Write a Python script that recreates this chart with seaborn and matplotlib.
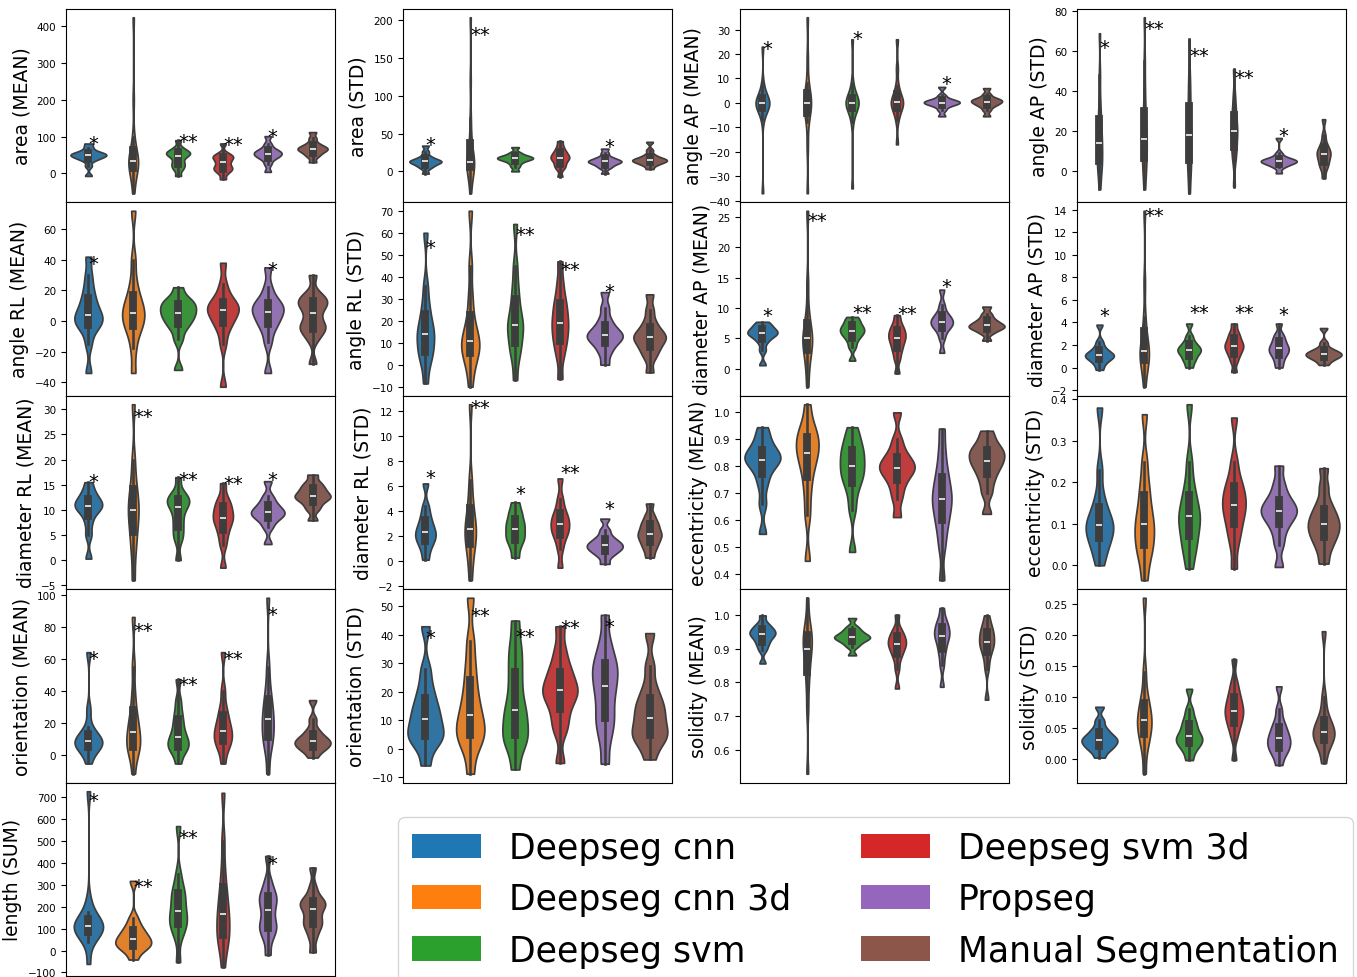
import numpy as np
import pandas as pd
import matplotlib.pyplot as plt
import seaborn as sns
from matplotlib.patches import Patch

methods = ["Deepseg cnn", "Deepseg cnn 3d", "Deepseg svm",
           "Deepseg svm 3d", "Propseg", "Manual Segmentation"]
colors = sns.color_palette("tab10", 6)

# values, one list per method (same order as methods)
area_mean = [
    [-7, 20, 35, 40, 44, 47, 49, 51, 53, 56, 60, 70, 81],
    [-54, -20, 0, 10, 18, 25, 30, 33, 38, 45, 55, 70, 100, 200, 424],
    [-7, 10, 18, 25, 32, 42, 48, 52, 55, 58, 62, 70, 90],
    [-16, 0, 8, 12, 16, 22, 30, 35, 42, 45, 48, 55, 81],
    [4, 25, 38, 44, 48, 52, 55, 58, 62, 68, 80, 101],
    [30, 45, 52, 58, 62, 65, 68, 71, 75, 82, 95, 112],
]
area_std = [
    [-3, 4, 7, 9, 11, 12, 13, 14, 15, 17, 20, 26, 34],
    [-29, -10, 0, 4, 7, 9, 10, 12, 16, 22, 30, 45, 70, 120, 204],
    [0, 6, 10, 13, 15, 16, 17, 18, 19, 20, 22, 25, 32],
    [-7, 3, 7, 10, 14, 16, 18, 20, 22, 25, 28, 33, 40],
    [-3, 4, 7, 9, 11, 12, 13, 14, 15, 17, 19, 24, 30],
    [3, 8, 10, 12, 13, 14, 15, 16, 17, 19, 22, 28, 39],
]
angle_ap_mean = [
    [-37, -7, -4, -3, -2, -1.5, -1, -0.5, 0, 0.5, 1, 1.5, 2, 3, 5, 8, 23],
    [-37, -18, -8, -4, -2, -1, 0, 1, 2, 4, 8, 18, 35],
    [-35, -8, -4, -2.5, -1.5, -1, -0.5, 0, 0.5, 1, 1.5, 2.5, 4, 8, 26],
    [-17, -7, -4, -2.5, -1.5, -0.5, 0, 0.5, 1.5, 2.5, 4, 7, 14, 26],
    [-5.5, -3, -1.5, -0.8, -0.3, 0, 0.2, 0.6, 1, 1.5, 3, 6.5],
    [-5.5, -3, -1.5, -0.8, -0.2, 0.3, 0.7, 1, 1.5, 2, 3.5, 6],
]
angle_ap_std = [
    [-9, -2, 2, 4, 6, 9, 12, 14, 17, 20, 24, 28, 35, 48, 69],
    [-9, -2, 2, 5, 8, 11, 14, 16, 19, 23, 27, 33, 42, 55, 77],
    [-11, -3, 2, 5, 8, 13, 17, 19, 23, 28, 34, 40, 48, 66],
    [-7.7, 5, 9, 12, 15, 18, 20, 22, 25, 28, 32, 38, 51],
    [-1, 2, 3, 3.8, 4.3, 4.7, 5, 5.3, 5.7, 6.2, 7, 9, 16.6],
    [-3.5, 1, 3, 4.5, 6, 7.5, 8.5, 9.5, 10.5, 12, 14, 18, 26],
]
angle_rl_mean = [
    [-34, -15, -6, -3, -1, 1, 3, 5, 8, 12, 16, 22, 30, 42],
    [-34, -18, -8, -4, -1, 2, 4, 7, 10, 13, 18, 26, 40, 72],
    [-32, -12, -5, -2, 1, 3, 5, 7, 9, 11, 13, 15, 22],
    [-43, -15, -6, -2, 1, 4, 6, 8, 9, 11, 13, 17, 24, 38],
    [-34, -14, -6, -2, 1, 4, 6, 8, 10, 12, 15, 22, 35],
    [-28, -12, -7, -5, -3, 0, 5, 9, 11, 13, 15, 18, 30],
]
angle_rl_std = [
    [-8.5, 0, 4, 6, 9, 12, 14, 16, 19, 23, 28, 36, 60],
    [-10, -2, 2, 5, 7, 9, 10, 12, 15, 18, 24, 32, 45, 70],
    [-7, 3, 7, 10, 14, 17, 18, 21, 25, 30, 36, 45, 64],
    [-6.5, 3, 8, 11, 14, 17, 19, 22, 25, 28, 32, 38, 47],
    [0, 5, 8, 10, 11.5, 12.5, 13.5, 14.5, 16, 18, 21, 26, 33],
    [-3.5, 3, 6, 8, 10, 11.5, 12.5, 13.5, 15, 17, 20, 25, 32],
]
diameter_ap_mean = [
    [0.55, 3, 4.3, 5, 5.4, 5.7, 5.9, 6.1, 6.4, 6.8, 7.2, 7.7],
    [-3, 0, 1.8, 3, 3.8, 4.4, 5, 5.6, 6.3, 7.5, 9.5, 14, 26],
    [1.3, 3.5, 4.5, 5.2, 5.6, 6, 6.3, 6.6, 7, 7.4, 8, 8.5],
    [-0.8, 1.5, 2.7, 3.5, 4.2, 4.8, 5.2, 5.7, 6.2, 6.7, 7.5, 8.8],
    [2.6, 5, 6.2, 6.8, 7.2, 7.5, 7.8, 8.2, 8.6, 9.2, 10.5, 13],
    [4.6, 5.8, 6.3, 6.6, 6.8, 7, 7.2, 7.5, 7.8, 8.3, 9, 10.2],
]
diameter_ap_std = [
    [-0.2, 0.3, 0.6, 0.8, 0.95, 1.05, 1.15, 1.3, 1.5, 1.8, 2.3, 3.8],
    [-1.7, -0.3, 0.3, 0.7, 1, 1.2, 1.5, 1.9, 2.4, 3.2, 4.5, 7.5, 13.9],
    [0, 0.5, 0.8, 1.1, 1.3, 1.5, 1.6, 1.8, 2, 2.3, 2.8, 3.9],
    [-0.4, 0.5, 1, 1.3, 1.6, 1.8, 2, 2.2, 2.5, 2.8, 3.2, 3.9],
    [0, 0.5, 0.9, 1.2, 1.4, 1.6, 1.8, 2, 2.3, 2.6, 3, 3.9],
    [0.23, 0.6, 0.8, 0.95, 1.05, 1.15, 1.25, 1.35, 1.5, 1.7, 2.2, 3.5],
]
diameter_rl_mean = [
    [0.3, 5, 7.5, 9.3, 10, 10.6, 11, 11.4, 12, 12.8, 13.8, 15.5],
    [-4, 1, 4, 6, 8, 9.3, 10.5, 12, 13.5, 16, 20, 31],
    [0, 4, 5.5, 7, 8.5, 10, 11, 11.5, 12, 12.6, 13.5, 16.5],
    [-1.5, 3, 5, 6.3, 7.5, 8.1, 8.8, 9.6, 10.5, 11.3, 12.5, 15.3],
    [3.2, 6.5, 7.8, 8.5, 9, 9.3, 9.7, 10.2, 10.8, 11.6, 12.8, 15.7],
    [7.9, 10, 11, 11.8, 12.3, 12.6, 13, 13.5, 14.1, 14.7, 15.5, 17],
]
diameter_rl_std = [
    [0.13, 0.9, 1.4, 1.7, 2, 2.2, 2.5, 2.8, 3.2, 3.7, 4.4, 6.2],
    [-1.5, 0, 0.9, 1.5, 2, 2.4, 2.8, 3.3, 4, 5, 6.5, 12.5],
    [0.3, 1, 1.5, 1.8, 2.1, 2.4, 2.7, 3, 3.3, 3.7, 4.1, 4.7],
    [-0.5, 1, 1.8, 2.2, 2.5, 2.8, 3.1, 3.4, 3.7, 4.2, 5, 6.6],
    [-0.2, 0.4, 0.7, 0.9, 1.05, 1.2, 1.35, 1.5, 1.7, 2, 2.5, 3.4],
    [0.3, 0.9, 1.3, 1.6, 1.9, 2.1, 2.3, 2.6, 2.9, 3.2, 3.7, 4.6],
]
eccentricity_mean = [
    [0.55, 0.66, 0.73, 0.77, 0.8, 0.815, 0.825, 0.835, 0.845, 0.86, 0.88, 0.91, 0.945],
    [0.45, 0.62, 0.7, 0.76, 0.8, 0.83, 0.85, 0.87, 0.89, 0.91, 0.93, 0.96, 1.03],
    [0.483, 0.64, 0.7, 0.74, 0.76, 0.78, 0.8, 0.82, 0.84, 0.86, 0.88, 0.91, 0.945],
    [0.612, 0.68, 0.72, 0.75, 0.77, 0.785, 0.795, 0.805, 0.82, 0.835, 0.86, 0.9, 1.0],
    [0.378, 0.5, 0.56, 0.6, 0.63, 0.66, 0.68, 0.7, 0.73, 0.76, 0.8, 0.86, 0.94],
    [0.624, 0.7, 0.74, 0.77, 0.79, 0.81, 0.82, 0.835, 0.85, 0.86, 0.875, 0.9, 0.932],
]
eccentricity_std = [
    [0, 0.03, 0.05, 0.065, 0.078, 0.088, 0.097, 0.108, 0.12, 0.14, 0.17, 0.23, 0.38],
    [-0.036, 0.01, 0.035, 0.05, 0.07, 0.086, 0.1, 0.12, 0.14, 0.17, 0.2, 0.25, 0.364],
    [-0.008, 0.03, 0.05, 0.07, 0.09, 0.105, 0.118, 0.13, 0.15, 0.17, 0.2, 0.25, 0.388],
    [-0.008, 0.05, 0.08, 0.1, 0.12, 0.135, 0.146, 0.16, 0.175, 0.19, 0.21, 0.25, 0.356],
    [-0.004, 0.05, 0.08, 0.1, 0.113, 0.122, 0.13, 0.138, 0.147, 0.158, 0.175, 0.2, 0.24],
    [0.004, 0.035, 0.055, 0.068, 0.08, 0.09, 0.1, 0.11, 0.122, 0.135, 0.155, 0.19, 0.234],
]
orientation_mean = [
    [-5.6, 1, 3.5, 5, 6.3, 7.3, 8.3, 9.5, 11, 13, 17, 28, 64],
    [-12, 0, 3, 5, 8, 11, 14, 18, 22, 28, 38, 55, 86],
    [-5.6, 1, 3.5, 5, 7, 9, 11, 14, 18, 22, 27, 34, 47],
    [-5.6, 3, 6, 8.5, 11, 13, 15, 18, 21, 25, 30, 40, 64],
    [-12, 3, 8, 11, 15, 19, 22, 26, 30, 35, 42, 55, 98],
    [-1.9, 2, 3.5, 5, 6.3, 7.3, 8.3, 9.5, 11, 13, 16, 22, 34],
]
orientation_std = [
    [-5.8, 1, 3, 4.5, 6, 8, 10.5, 12.5, 15, 18, 22, 28, 43],
    [-8.7, 0, 3, 5, 7, 9, 12, 15, 19, 24, 30, 38, 53],
    [-7.2, 0.5, 3, 5, 8, 11, 13.5, 17, 22, 27, 32, 37, 45],
    [-4.9, 6, 10, 14, 17, 19, 20.5, 22, 24.5, 27, 30, 35, 43],
    [-5.2, 3, 8, 11, 15, 19, 22, 25, 27.5, 30, 33, 38, 47],
    [-3.7, 1.5, 3.5, 5, 6.5, 9, 11, 13.5, 15.5, 18, 22, 29, 40.6],
]
solidity_mean = [
    [0.856, 0.895, 0.91, 0.92, 0.93, 0.937, 0.942, 0.947, 0.952, 0.958, 0.965, 0.975, 0.998],
    [0.53, 0.72, 0.79, 0.83, 0.86, 0.885, 0.9, 0.915, 0.93, 0.94, 0.955, 0.98, 1.05],
    [0.88, 0.905, 0.915, 0.922, 0.927, 0.931, 0.934, 0.937, 0.942, 0.948, 0.955, 0.965, 0.99],
    [0.782, 0.84, 0.87, 0.885, 0.897, 0.906, 0.913, 0.92, 0.928, 0.936, 0.946, 0.96, 1.0],
    [0.787, 0.85, 0.88, 0.9, 0.915, 0.93, 0.937, 0.945, 0.955, 0.965, 0.975, 0.99, 1.02],
    [0.749, 0.84, 0.87, 0.89, 0.902, 0.912, 0.92, 0.93, 0.94, 0.95, 0.96, 0.975, 0.998],
]
solidity_std = [
    [0.002, 0.012, 0.017, 0.021, 0.025, 0.028, 0.031, 0.034, 0.038, 0.043, 0.05, 0.062, 0.084],
    [-0.024, 0.015, 0.03, 0.04, 0.05, 0.057, 0.062, 0.07, 0.08, 0.09, 0.105, 0.14, 0.26],
    [-0.002, 0.012, 0.02, 0.025, 0.029, 0.033, 0.037, 0.042, 0.05, 0.057, 0.066, 0.08, 0.113],
    [-0.002, 0.035, 0.05, 0.058, 0.066, 0.073, 0.078, 0.084, 0.092, 0.1, 0.11, 0.125, 0.161],
    [-0.01, 0.005, 0.012, 0.018, 0.023, 0.028, 0.033, 0.038, 0.045, 0.052, 0.062, 0.08, 0.117],
    [-0.007, 0.015, 0.025, 0.031, 0.036, 0.04, 0.044, 0.049, 0.055, 0.062, 0.075, 0.1, 0.206],
]
length_sum = [
    [-61, 40, 65, 80, 90, 98, 105, 112, 118, 125, 135, 150, 175, 230, 727],
    [-41, 0, 12, 22, 32, 42, 52, 64, 78, 95, 115, 150, 318],
    [-53, 60, 100, 120, 135, 160, 180, 210, 240, 265, 290, 350, 568],
    [-76, 10, 40, 65, 95, 125, 150, 180, 215, 255, 300, 380, 500, 720],
    [-20, 50, 85, 105, 120, 150, 185, 210, 235, 250, 275, 320, 432],
    [-8, 60, 100, 120, 135, 160, 190, 205, 215, 225, 245, 290, 379],
]

# significance marks: (method index, label, height)
area_mean_stars = [(0, "*", 65), (2, "**", 72), (3, "**", 63), (4, "*", 84)]
area_std_stars = [(0, "*", 28), (1, "**", 174), (4, "*", 25)]
angle_ap_mean_stars = [(0, "*", 20), (2, "*", 24), (4, "*", 5.7)]
angle_ap_std_stars = [(0, "*", 59), (1, "**", 68.5), (2, "**", 55), (3, "**", 44), (4, "*", 15.2)]
angle_rl_mean_stars = [(0, "*", 34), (4, "*", 29.7)]
angle_rl_std_stars = [(0, "*", 51), (2, "**", 56.5), (3, "**", 41), (4, "*", 30.6)]
diameter_ap_mean_stars = [(0, "*", 7.8), (1, "**", 23.5), (2, "**", 8.4), (3, "**", 8.1), (4, "*", 12.6)]
diameter_ap_std_stars = [(0, "*", 4.1), (1, "**", 13), (2, "**", 4.4), (3, "**", 4.4), (4, "*", 4.2)]
diameter_rl_mean_stars = [(0, "*", 14.6), (1, "**", 27.5), (2, "**", 15), (3, "**", 14.1), (4, "*", 15)]
diameter_rl_std_stars = [(0, "*", 6.2), (1, "**", 11.8), (2, "*", 5), (3, "**", 6.6), (4, "*", 3.8)]
orientation_mean_stars = [(0, "*", 56.5), (1, "**", 74), (2, "**", 40.5), (3, "**", 56.5), (4, "*", 84)]
orientation_std_stars = [(0, "*", 37), (1, "**", 45), (2, "**", 37.4), (3, "**", 40.5), (4, "*", 40.9)]
length_sum_stars = [(0, "*", 662), (1, "**", 268), (2, "**", 491), (4, "*", 374)]

panels = [
    ("area (MEAN)", area_mean, area_mean_stars),
    ("area (STD)", area_std, area_std_stars),
    ("angle AP (MEAN)", angle_ap_mean, angle_ap_mean_stars),
    ("angle AP (STD)", angle_ap_std, angle_ap_std_stars),
    ("angle RL (MEAN)", angle_rl_mean, angle_rl_mean_stars),
    ("angle RL (STD)", angle_rl_std, angle_rl_std_stars),
    ("diameter AP (MEAN)", diameter_ap_mean, diameter_ap_mean_stars),
    ("diameter AP (STD)", diameter_ap_std, diameter_ap_std_stars),
    ("diameter RL (MEAN)", diameter_rl_mean, diameter_rl_mean_stars),
    ("diameter RL (STD)", diameter_rl_std, diameter_rl_std_stars),
    ("eccentricity (MEAN)", eccentricity_mean, []),
    ("eccentricity (STD)", eccentricity_std, []),
    ("orientation (MEAN)", orientation_mean, orientation_mean_stars),
    ("orientation (STD)", orientation_std, orientation_std_stars),
    ("solidity (MEAN)", solidity_mean, []),
    ("solidity (STD)", solidity_std, []),
    ("length (SUM)", length_sum, length_sum_stars),
]

fig, axes = plt.subplots(5, 4, figsize=(13.57, 9.78))
plt.subplots_adjust(left=66/1357, right=1346/1357, top=1-9.5/978,
                    bottom=1/978, hspace=0, wspace=0.253)

for ax, (label, values, stars) in zip(axes.flat, panels):
    df = pd.DataFrame({
        "method": np.repeat(methods, [len(v) for v in values]),
        "value": np.concatenate(values),
    })
    # common_norm so violin widths compare across methods (area scaling)
    sns.violinplot(data=df, x="method", y="value", hue="method",
                   palette=colors, legend=False, cut=0, bw_adjust=0.45,
                   common_norm=True, ax=ax)
    for i, mark, y in stars:
        ax.text(i, y, mark, fontsize=14, ha="left")
    ax.set_xticks([])
    ax.set_xlabel("")
    ax.set_ylabel(label, fontsize=13.5)
    ax.tick_params(axis="y", labelsize=7.5)

for ax in axes.flat[len(panels):]:
    ax.axis("off")

# legend with the pure palette colours
handles = [Patch(facecolor=c, label=m) for c, m in zip(colors, methods)]
fig.legend(handles=handles, loc="upper left", ncol=2, fontsize=25,
           bbox_to_anchor=(398/1357, 1-818/978), borderaxespad=0)

plt.savefig("out.png", dpi=100)
